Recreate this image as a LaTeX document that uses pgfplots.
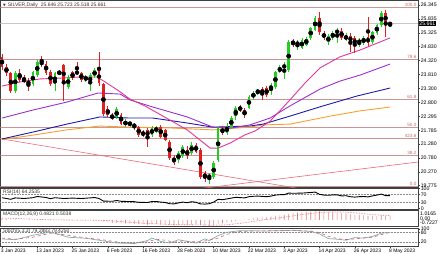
\documentclass[border=0pt]{standalone}
\usepackage{pgfplots}
\pgfplotsset{compat=1.18}
\usepackage{pgfplotstable}
\usepackage{fontspec}
\setmainfont{Liberation Sans}
\newfontfamily\dejavu{DejaVu Sans}
\definecolor{bull}{HTML}{22CC22}
\definecolor{bear}{HTML}{E02020}
\definecolor{mapink}{HTML}{E0359A}
\definecolor{mapurple}{HTML}{9A2FD0}
\definecolor{manavy}{HTML}{1C1CA8}
\definecolor{maorange}{HTML}{F5A030}
\definecolor{fib}{HTML}{CC9494}
\definecolor{fibtxt}{HTML}{C06A6A}
\definecolor{trend}{HTML}{E86A7A}
\definecolor{frame}{HTML}{404040}
\definecolor{macdbar}{HTML}{E48080}
\definecolor{stochmain}{HTML}{7FAFAF}
\definecolor{stochsig}{HTML}{E05A5A}

\pgfplotstableread{
i O H L C
3 23.22 23.95 23.15 23.86
7 23.45 23.95 23.40 23.90
8 23.78 24.35 23.72 24.28
12 23.45 23.92 23.20 23.87
13 23.84 23.98 23.78 23.90
15 23.37 23.80 23.30 23.73
19 23.64 23.78 23.55 23.70
20 23.50 23.85 23.20 23.79
21 23.75 24.05 23.68 23.97
26 22.25 22.62 22.18 22.55
28 22.00 22.18 21.92 22.10
29 22.00 22.12 21.92 22.05
34 21.60 21.95 21.55 21.87
35 21.75 21.95 21.68 21.87
40 20.71 21.05 20.60 20.96
41 20.85 21.25 20.78 21.18
43 20.96 21.35 20.90 21.25
47 20.05 20.25 19.85 20.16
48 20.09 20.68 20.00 20.60
49 20.71 21.95 20.65 21.87
51 21.70 22.05 21.62 21.90
52 21.90 22.30 21.85 22.23
53 22.30 22.65 22.15 22.60
56 22.60 23.05 22.55 22.99
57 22.99 23.20 22.90 23.14
58 23.14 23.30 23.05 23.25
61 23.25 23.50 23.07 23.43
62 23.36 23.95 23.30 23.90
63 23.90 24.15 23.85 24.08
64 24.05 24.25 23.65 24.16
65 23.97 25.05 23.90 24.99
67 24.88 25.05 24.70 24.99
68 24.77 25.12 24.72 25.06
69 24.88 25.18 24.85 25.10
70 25.14 25.55 25.08 25.50
71 25.43 25.92 25.38 25.86
74 24.99 25.28 24.90 25.21
75 25.14 25.40 25.08 25.32
76 25.35 25.50 24.95 25.38
78 25.10 25.30 25.02 25.21
81 24.95 25.12 24.80 25.06
82 24.95 25.20 24.90 25.14
84 24.99 25.40 24.92 25.35
85 25.32 25.66 25.25 25.61
86 25.61 26.10 25.55 26.04
88 25.646 25.723 25.518 25.661
}\bulltab

\pgfplotstableread{
i O H L C
0 24.45 24.55 23.97 24.08
1 24.10 24.20 23.75 23.85
2 23.85 23.90 23.15 23.22
4 23.86 24.00 23.55 23.62
5 23.66 23.78 23.50 23.55
6 23.58 23.68 23.20 23.45
9 24.27 24.50 24.10 24.18
10 24.20 24.30 23.80 23.88
11 23.90 23.98 23.40 23.45
14 24.15 24.20 22.85 23.52
16 23.90 23.95 23.60 23.68
17 23.90 24.28 23.80 23.86
18 23.86 23.92 23.55 23.62
22 23.97 24.63 23.40 23.50
23 23.45 23.50 22.30 22.36
24 22.55 22.65 22.28 22.35
25 22.30 22.40 22.15 22.27
27 22.35 22.42 21.98 22.02
30 22.00 22.06 21.80 21.91
31 21.91 21.95 21.55 21.61
32 21.72 21.78 21.55 21.62
33 21.80 21.88 21.18 21.55
36 21.90 21.98 21.50 21.55
37 21.80 21.85 21.38 21.43
38 21.36 21.45 20.72 20.78
39 20.81 20.90 20.52 20.60
42 21.07 21.20 20.75 20.85
44 21.25 21.32 20.95 21.00
45 21.07 21.15 20.02 20.09
46 20.23 20.30 19.90 20.05
50 21.85 21.95 21.60 21.70
54 22.63 22.70 22.45 22.52
55 22.52 22.58 22.23 22.34
59 23.28 23.35 22.89 23.10
60 23.32 23.38 23.00 23.07
66 24.99 25.10 24.80 24.95
72 25.86 26.08 25.25 25.35
73 25.32 25.40 25.05 25.14
77 25.39 25.50 25.05 25.14
79 25.21 25.30 24.63 24.99
80 25.14 25.20 24.59 24.88
83 25.17 25.90 24.85 24.95
87 26.04 26.15 25.17 25.68
}\beartab

\pgfplotstableread{
i M
0 0.18
1 0.14
2 0.06
3 0.05
4 0.02
5 -0.01
6 -0.04
7 -0.03
8 0.02
9 0.04
10 0.03
11 -0.02
12 -0.02
13 -0.01
14 -0.03
15 -0.03
16 -0.03
17 -0.03
18 -0.05
19 -0.05
20 -0.04
21 -0.02
22 -0.05
23 -0.18
24 -0.27
25 -0.34
26 -0.36
27 -0.40
28 -0.42
29 -0.44
30 -0.46
31 -0.50
32 -0.52
33 -0.55
34 -0.53
35 -0.51
36 -0.52
37 -0.53
38 -0.59
39 -0.64
40 -0.64
41 -0.61
42 -0.60
43 -0.55
44 -0.53
45 -0.58
46 -0.68
47 -0.72
48 -0.66
49 -0.50
50 -0.42
51 -0.33
52 -0.24
53 -0.13
54 -0.05
55 0.00
56 0.08
57 0.17
58 0.25
59 0.30
60 0.33
61 0.38
62 0.46
63 0.53
64 0.59
65 0.71
66 0.79
67 0.85
68 0.90
69 0.93
70 0.98
71 1.02
72 1.00
73 0.96
74 0.92
75 0.89
76 0.86
77 0.80
78 0.76
79 0.69
80 0.61
81 0.57
82 0.53
83 0.47
84 0.46
85 0.47
86 0.52
87 0.51
88 0.48
}\macdtab

\begin{document}
\begin{tikzpicture}[x=1pt,y=1pt]
\useasboundingbox (0pt,0pt) rectangle (440pt,-254pt);
\pgfplotsset{
  panel/.style={scale only axis, width=417.5pt, xmin=-0.34, xmax=94.33,
    axis line style={frame, line width=0.6pt},
    xtick=\empty, ytick pos=right, yticklabel pos=right,
    tick align=outside, major tick length=1.8pt,
    tick style={frame, line width=0.4pt},
    yticklabel style={font=\fontsize{5.2}{6}\selectfont, inner sep=0.8pt},
    /pgf/number format/assume math mode=true,
    anchor=north west, clip=true},
  candle/.style={only marks, mark=none, forget plot,
    error bars/.cd, y dir=both, y explicit, error mark=none},
}
% ---------------- main price panel
\begin{axis}[panel, at={(0.5pt,-0.5pt)}, height=186.5pt, ymin=19.726, ymax=26.498,
  ytick={19.775,20.270,20.780,21.280,21.785,22.295,22.800,23.300,23.810,24.320,24.830,25.325,25.835,26.345},
  yticklabels={19.775,20.270,20.780,21.280,21.785,22.295,22.800,23.300,23.810,24.320,24.830,25.325,25.835,26.345}]
% fibonacci levels
\addplot[fib, line width=0.6pt, forget plot] coordinates {(-0.34,26.25) (94.33,26.25)};
\addplot[fib, line width=0.6pt, forget plot] coordinates {(-0.34,24.38) (94.33,24.38)};
\addplot[fib, line width=0.6pt, forget plot] coordinates {(-0.34,22.91) (94.33,22.91)};
\addplot[fib, line width=0.6pt, forget plot] coordinates {(-0.34,21.89) (94.33,21.89)};
\addplot[fib, line width=0.6pt, forget plot] coordinates {(-0.34,21.50) (94.33,21.50)};
\addplot[fib, line width=0.6pt, forget plot] coordinates {(-0.34,20.88) (94.33,20.88)};
\addplot[fib, line width=0.6pt, forget plot] coordinates {(-0.34,19.76) (94.33,19.76)};
% current price line
\addplot[black!22, line width=0.6pt, forget plot] coordinates {(-0.34,25.661) (94.33,25.661)};
% trend lines
\addplot[trend, line width=0.6pt, forget plot] coordinates {(0,21.47) (70,19.60)};
\addplot[trend, line width=0.6pt, forget plot] coordinates {(44,19.65) (94.33,20.633)};
% moving averages
\addplot[maorange, line width=0.9pt] coordinates {(0,21.45) (7.0,21.61) (14.7,21.80) (22.2,21.94) (29.0,21.90) (38.1,21.87) (47.8,21.80) (56.2,21.90) (59.2,21.98) (65.3,22.01) (74.4,22.30) (81.2,22.49) (88.0,22.63)};
\addplot[manavy, line width=0.9pt] coordinates {(0,21.47) (7.0,21.72) (14.7,22.01) (22.2,22.27) (29.0,22.23) (34.2,22.23) (42.0,22.05) (47.8,21.90) (56.2,21.94) (59.2,22.01) (65.3,22.30) (72.8,22.67) (80.5,23.03) (88.0,23.32)};
\addplot[mapurple, line width=0.9pt] coordinates {(0,22.23) (7.0,22.52) (14.7,22.81) (21.8,23.14) (26.8,23.10) (29.0,22.89) (34.2,22.63) (42.0,22.27) (47.8,21.90) (51.7,21.86) (56.2,21.98) (60.8,22.23) (65.3,22.67) (72.1,23.28) (76.6,23.57) (81.2,23.79) (88.0,24.19)};
\addplot[mapink, line width=0.9pt] coordinates {(0,23.39) (4.1,23.54) (8.6,23.65) (13.2,23.68) (17.7,23.72) (21.5,23.72) (23.4,23.54) (26.8,23.18) (29.0,22.92) (32.4,22.67) (36.5,22.30) (42.0,21.80) (44.9,21.43) (47.2,21.14) (49.0,21.14) (51.7,21.32) (55.1,21.62) (57.4,21.76) (60.8,22.12) (63.0,22.49) (65.3,22.89) (68.7,23.50) (72.1,24.05) (76.6,24.45) (81.2,24.70) (84.6,24.92) (88.0,25.14)};
% candles: wicks
\addplot[candle, error bar style={draw=bull, line width=0.7pt}] table[x=i, y expr={(\thisrow{H}+\thisrow{L})/2}, y error expr={(\thisrow{H}-\thisrow{L})/2}] {\bulltab};
\addplot[candle, error bar style={draw=bear, line width=0.7pt}] table[x=i, y expr={(\thisrow{H}+\thisrow{L})/2}, y error expr={(\thisrow{H}-\thisrow{L})/2}] {\beartab};
% candles: bodies
\addplot[candle, error bar style={draw=bull, line width=2.7pt}] table[x=i, y expr={(\thisrow{O}+\thisrow{C})/2}, y error expr={max(abs(\thisrow{C}-\thisrow{O})/2,0.015)}] {\bulltab};
\addplot[candle, error bar style={draw=bear, line width=2.7pt}] table[x=i, y expr={(\thisrow{O}+\thisrow{C})/2}, y error expr={max(abs(\thisrow{C}-\thisrow{O})/2,0.015)}] {\beartab};
% fib labels
\begin{scope}[every node/.style={fibtxt, font=\fontsize{4.6}{5}\selectfont, anchor=south east, inner sep=0.4pt}]
\node at (axis cs:94.1,26.25) {100.0};
\node at (axis cs:94.1,24.38) {78.6};
\node at (axis cs:94.1,22.91) {61.8};
\node at (axis cs:94.1,21.89) {50.0};
\node at (axis cs:94.1,21.50) {423.6};
\node at (axis cs:94.1,20.88) {38.2};
\node at (axis cs:94.1,19.76) {0.0};
\end{scope}
\coordinate (cp) at (axis cs:94.33,25.661);
\end{axis}
\node[fill=black, text=white, anchor=west, inner sep=0.6pt, font=\fontsize{5.2}{6}\selectfont] at ([xshift=0.6pt]cp) {25.661};
\node[anchor=west, inner sep=0pt, font=\fontsize{5}{6}\selectfont, text=black!80] at (3pt,-5pt) {{\dejavu\fontsize{3.5}{4}\selectfont ▼}\hspace{2pt}SILVER,Daily\hspace{3pt}25.646 25.723 25.518 25.661};

% ---------------- RSI panel
\begin{axis}[panel, at={(0.5pt,-188.5pt)}, height=21pt, ymin=-5, ymax=100,
  ytick={0,30,70,100}, yticklabels={0,30,70,100}]
\addplot[black!45, densely dotted, line width=0.5pt, forget plot] coordinates {(-0.34,70) (94.33,70)};
\addplot[black!45, densely dotted, line width=0.5pt, forget plot] coordinates {(-0.34,30) (94.33,30)};
\addplot[black, line width=0.9pt] coordinates {(0,54) (2,46) (3,53) (5,50) (7,54) (8,60) (10,55) (11,49) (12,54) (14,50) (16,52) (18,50) (20,53) (21,55) (22,50) (23,37) (25,36) (26,40) (27,36) (30,34) (31,31) (33,30) (34,35) (35,35) (36,32) (37,30) (38,24) (39,23) (40,28) (41,32) (42,29) (43,34) (44,31) (45,23) (46,22) (47,24) (48,32) (49,46) (50,44) (51,48) (52,52) (53,56) (55,53) (56,59) (57,61) (58,62) (60,59) (61,62) (62,67) (63,69) (64,69) (65,77) (66,76) (68,77) (70,80) (71,82) (72,71) (73,67) (74,66) (75,68) (76,68) (77,63) (78,64) (79,59) (80,57) (81,59) (82,60) (83,58) (84,63) (85,67) (86,72) (87,64) (88,64.25)};
\end{axis}
\node[anchor=west, inner sep=0pt, font=\fontsize{5}{6}\selectfont, text=black!80] at (3pt,-192pt) {RSI(14) 64.2535};

% ---------------- MACD panel
\begin{axis}[panel, at={(0.5pt,-210.5pt)}, height=16.2pt, ymin=-0.80, ymax=1.10, ytick=\empty]
\addplot[ybar, bar width=0.6pt, fill=macdbar, draw=none] table[x=i, y=M] {\macdtab};
\addplot[stochsig, densely dotted, line width=0.6pt] coordinates {(0,0.22) (4,0.15) (8,0.06) (12,0.00) (16,-0.02) (20,-0.03) (24,-0.08) (28,-0.24) (32,-0.40) (36,-0.49) (40,-0.56) (44,-0.58) (48,-0.62) (50,-0.60) (52,-0.52) (54,-0.40) (56,-0.26) (58,-0.10) (60,0.05) (62,0.18) (64,0.32) (66,0.47) (68,0.62) (70,0.75) (72,0.86) (74,0.92) (76,0.93) (78,0.90) (80,0.83) (82,0.73) (84,0.62) (86,0.55) (88,0.5038)};
\end{axis}
\node[anchor=west, inner sep=0pt, font=\fontsize{5}{6}\selectfont, text=black!80] at (3pt,-214pt) {MACD(12,26,9) 0.4821 0.5038};
\begin{scope}[every node/.style={anchor=west, inner sep=0pt, font=\fontsize{5.2}{6}\selectfont}]
\node at (420pt,-213.3pt) {1.0165};
\node at (420pt,-218.4pt) {0.00};
\node at (420pt,-222.4pt) {-0.7227};
\end{scope}

% ---------------- Stochastic panel
\begin{axis}[panel, at={(0.5pt,-228.5pt)}, height=17.5pt, ymin=-3, ymax=103,
  ytick={20,80,100}, yticklabels={20,80,100},
  xtick={0,8,16,24,32,40,48,56,64,72,80,88}, xtick pos=left, xticklabel pos=left,
  xticklabels={3 Jan 2023,13 Jan 2023,25 Jan 2023,6 Feb 2023,16 Feb 2023,28 Feb 2023,10 Mar 2023,22 Mar 2023,3 Apr 2023,14 Apr 2023,26 Apr 2023,8 May 2023},
  xticklabel style={font=\fontsize{5}{6}\selectfont, anchor=north west, inner sep=0pt, xshift=-1.2pt, yshift=-1.2pt}]
\addplot[black!45, densely dotted, line width=0.5pt, forget plot] coordinates {(-0.34,80) (94.33,80)};
\addplot[black!45, densely dotted, line width=0.5pt, forget plot] coordinates {(-0.34,20) (94.33,20)};
\addplot[stochmain, line width=0.7pt] coordinates {(0,40) (3,35) (7,62) (11,82) (15,50) (19,44) (22,32) (26,15) (30,12) (33,30) (34,45) (36,25) (38,15) (40,35) (42,25) (44,15) (46,40) (47,30) (49,60) (51,80) (54,90) (60,88) (66,92) (70,85) (72,70) (74,42) (76,38) (78,32) (80,48) (82,45) (84,55) (86,75) (88,79.2883)};
\addplot[stochsig, dashed, line width=0.6pt] coordinates {(0,45) (3,38) (7,50) (11,75) (15,62) (19,46) (22,38) (26,22) (30,14) (33,22) (35,38) (37,32) (39,20) (41,28) (43,24) (45,22) (47,33) (49,45) (51,68) (54,85) (60,89) (66,90) (70,88) (72,78) (74,56) (76,42) (78,36) (80,40) (82,46) (84,50) (86,66) (88,79.425)};
\end{axis}
\node[anchor=west, inner sep=0pt, font=\fontsize{5}{6}\selectfont, text=black!80] at (3pt,-231.5pt) {Stoch(5,3,3) 79.2883 79.4250};
\end{tikzpicture}
\end{document}
